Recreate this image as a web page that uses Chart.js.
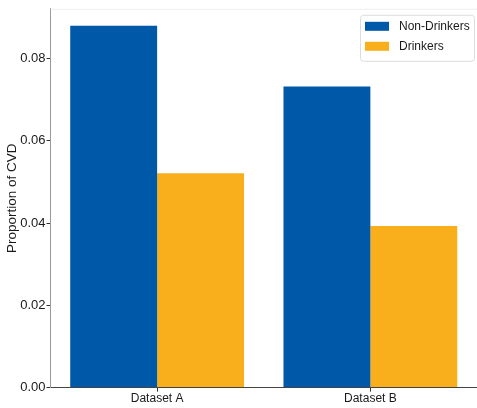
<!DOCTYPE html>
<html>
<head>
<meta charset="utf-8">
<script src="https://cdn.jsdelivr.net/npm/chart.js@4"></script>
<style>
  html, body { margin: 0; padding: 0; background: #fff; }
  #wrap { width: 477px; height: 408px; }
</style>
</head>
<body>
<div id="wrap"><canvas id="chart"></canvas></div>
<script>
var categories = ["Dataset A", "Dataset B"];
var nonDrinkers = [0.0880, 0.0732];
var drinkers = [0.0521, 0.0393];
var yTicks = [0.00, 0.02, 0.04, 0.06, 0.08];

var font = "'Liberation Sans', Arial, sans-serif";
Chart.defaults.font.family = font;
Chart.defaults.color = '#1a1a1a';

// faint top spine + matplotlib style legend box, upper right
var boxLegend = {
  id: 'boxLegend',
  afterDraw: function(chart) {
    var c = chart.ctx, a = chart.chartArea;
    c.save();
    c.strokeStyle = '#eee';
    c.lineWidth = 1;
    c.beginPath();
    c.moveTo(a.left, a.top + 0.5);
    c.lineTo(a.right, a.top + 0.5);
    c.stroke();

    var w = 114, h = 46;
    var x = a.right - w - 3, y = a.top + 6;
    c.fillStyle = 'rgba(255,255,255,0.9)';
    c.strokeStyle = '#ddd';
    c.beginPath();
    c.roundRect(x + 0.5, y + 0.5, w, h, 3);
    c.fill();
    c.stroke();
    c.font = '12px ' + font;
    c.textBaseline = 'middle';
    chart.data.datasets.forEach(function(ds, i) {
      var ry = y + 7 + i * 20;
      c.fillStyle = ds.backgroundColor;
      c.fillRect(x + 5, ry, 24, 9);
      c.fillStyle = '#1a1a1a';
      c.fillText(ds.label, x + 39, ry + 5);
    });
    c.restore();
  }
};

var ctx = document.getElementById('chart').getContext('2d');
var chart = new Chart(ctx, {
  type: 'bar',
  data: {
    labels: categories,
    datasets: [{
      label: 'Non-Drinkers',
      data: nonDrinkers,
      backgroundColor: '#0059A8',
      borderWidth: 0,
      barPercentage: 1,
      categoryPercentage: 0.815
    }, {
      label: 'Drinkers',
      data: drinkers,
      backgroundColor: '#F9AE1B',
      borderWidth: 0,
      barPercentage: 1,
      categoryPercentage: 0.815
    }]
  },
  options: {
    responsive: true,
    maintainAspectRatio: false,
    animation: false,
    layout: { padding: { top: 7, right: 0, bottom: 2, left: 4 } },
    plugins: {
      legend: { display: false },
      tooltip: { enabled: false }
    },
    scales: {
      x: {
        grid: { display: true, drawOnChartArea: false, offset: false, tickLength: 4, color: '#333' },
        border: { display: true, color: '#444', width: 1 },
        ticks: { font: { size: 12 }, color: '#1a1a1a', padding: 0 }
      },
      y: {
        min: 0,
        max: 0.0921,
        afterBuildTicks: function(axis) {
          axis.ticks = yTicks.map(function(v) { return { value: v }; });
        },
        grid: { display: true, drawOnChartArea: false, tickLength: 4, color: '#333' },
        border: { display: true, color: '#999', width: 1 },
        ticks: {
          font: { size: 13 }, color: '#1a1a1a', padding: 1,
          callback: function(v) { return v.toFixed(2); }
        },
        title: { display: true, text: 'Proportion of CVD', font: { size: 13.5 }, color: '#1a1a1a', padding: { top: 0, bottom: -1 } }
      }
    }
  },
  plugins: [boxLegend]
});
</script>
</body>
</html>
